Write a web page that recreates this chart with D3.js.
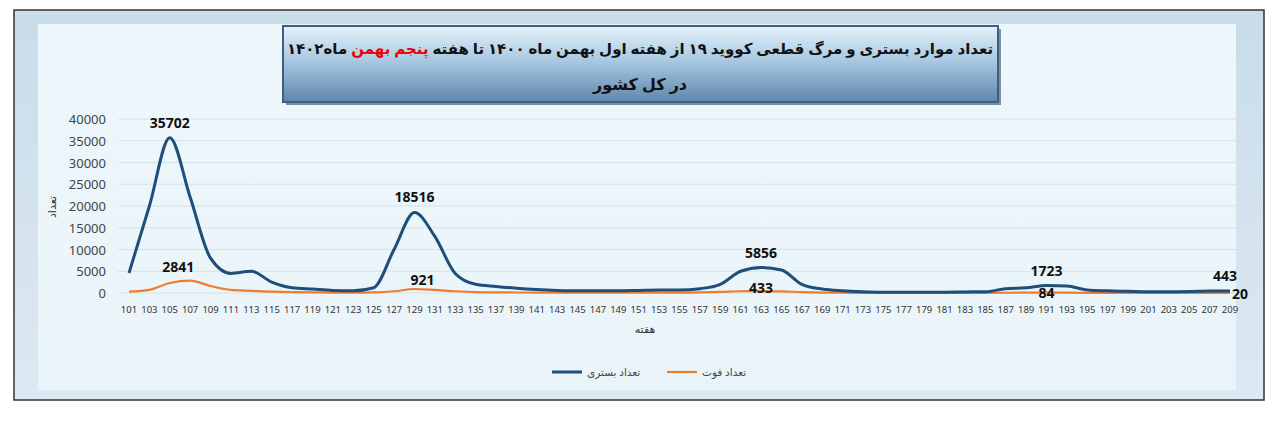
<!DOCTYPE html>
<html lang="fa">
<head>
<meta charset="utf-8" />
<style>
  body { margin: 0; background: #fff; }
  text { font-family: "Noto Sans", "DejaVu Sans", sans-serif; }
</style>
</head>
<body>
<div id="graph"></div>
<script src="https://cdnjs.cloudflare.com/ajax/libs/d3/7.8.5/d3.min.js"></script>
<script>
var W = 1280, H = 422;

var weeks = d3.range(101, 210, 2);
var hospital = [4600,20000,35702,22000,8000,4500,5000,2500,1200,900,600,500,1200,10000,18516,13000,4500,2000,1500,1100,
  800,600,500,500,500,600,700,700,1000,2000,5000,5856,5300,2000,900,500,300,200,200,200,
  200,250,300,1000,1200,1723,1600,700,500,400,300,300,350,450,443];
var deaths = [300,700,2300,2841,1600,700,500,300,200,150,100,100,150,400,921,700,400,200,150,120,
  100,90,80,80,80,90,100,100,150,250,400,433,380,200,100,60,40,30,30,30,
  30,30,40,60,70,84,80,50,40,30,25,20,20,20,20];
var yTicks = [0,5000,10000,15000,20000,25000,30000,35000,40000];
var hospLabels = [[105,35702,0,-10],[129,18516,0,-10],[163,5856,0,-10],[191,1723,0,-10],[209,443,-5,-10]];
var deathLabels = [[107,2841,-12,-9],[129,921,8,-4],[163,433,0,2],[191,84,0,5],[209,20,10,6]];

var svg = d3.select("#graph").append("svg").attr("width", W).attr("height", H);
var defs = svg.append("defs");

var bg = defs.append("linearGradient").attr("id", "bg").attr("x1", 0).attr("y1", 0).attr("x2", 0).attr("y2", 1);
bg.append("stop").attr("offset", 0).attr("stop-color", "#eef7fb");
bg.append("stop").attr("offset", 1).attr("stop-color", "#e9f4f9");
var frame = defs.append("linearGradient").attr("id", "frame").attr("x1", 0).attr("y1", 0).attr("x2", 0).attr("y2", 1);
frame.append("stop").attr("offset", 0).attr("stop-color", "#c9dcea");
frame.append("stop").attr("offset", 1).attr("stop-color", "#dde9f2");
var tb = defs.append("linearGradient").attr("id", "tb").attr("x1", 0).attr("y1", 0).attr("x2", 0).attr("y2", 1);
tb.append("stop").attr("offset", 0).attr("stop-color", "#e4f1fa");
tb.append("stop").attr("offset", 0.45).attr("stop-color", "#a9c9e2");
tb.append("stop").attr("offset", 1).attr("stop-color", "#5f86ad");

// outer frame
svg.append("rect").attr("x", 14).attr("y", 10).attr("width", 1250).attr("height", 390)
  .attr("fill", "url(#frame)").attr("stroke", "#333").attr("stroke-width", 1.5);
svg.append("rect").attr("x", 38).attr("y", 24).attr("width", 1198).attr("height", 366).attr("fill", "url(#bg)");

// title box
svg.append("rect").attr("x", 286).attr("y", 29).attr("width", 715).attr("height", 76).attr("fill", "#334a60").attr("opacity", 0.6);
svg.append("rect").attr("x", 283).attr("y", 26).attr("width", 715).attr("height", 76)
  .attr("fill", "url(#tb)").attr("stroke", "#3d5f80").attr("stroke-width", 2);
var t1 = svg.append("text").attr("x", 640).attr("y", 54).attr("text-anchor", "middle")
  .attr("direction", "rtl").attr("font-weight", "bold").attr("font-size", 15).attr("fill", "#111");
t1.append("tspan").text("تعداد موارد بستری و مرگ قطعی کووید ۱۹  از هفته اول بهمن ماه ۱۴۰۰ تا هفته ");
t1.append("tspan").attr("fill", "#e00").text("پنجم بهمن");
t1.append("tspan").text(" ماه۱۴۰۲");
svg.append("text").attr("x", 640).attr("y", 90).attr("text-anchor", "middle")
  .attr("font-weight", "bold").attr("font-size", 16).attr("fill", "#111").text("در کل کشور");

var x = d3.scalePoint().domain(weeks).range([129, 1230]);
var y = d3.scaleLinear().domain([0, 40000]).range([293, 119]);

svg.append("g").selectAll("line").data(yTicks).join("line")
  .attr("x1", 118).attr("x2", 1240).attr("y1", d => y(d)).attr("y2", d => y(d))
  .attr("stroke", "#d6e1e8").attr("stroke-width", 1);

svg.append("g").selectAll("text").data(yTicks).join("text")
  .attr("x", 106).attr("y", d => y(d) + 5).attr("text-anchor", "end")
  .attr("font-size", 13).attr("fill", "#444").text(d => d);

svg.append("g").selectAll("text").data(weeks).join("text")
  .attr("x", d => x(d)).attr("y", 313).attr("text-anchor", "middle")
  .attr("font-size", 9.5).attr("fill", "#333").text(d => d);

svg.append("text").attr("x", 645).attr("y", 333).attr("text-anchor", "middle")
  .attr("font-size", 11).attr("fill", "#333").text("هفته");
svg.append("text").attr("transform", "translate(56,207) rotate(-90)").attr("text-anchor", "middle")
  .attr("font-size", 11).attr("fill", "#333").text("تعداد");

var line = d3.line().x((d, i) => x(weeks[i])).y(d => y(d)).curve(d3.curveMonotoneX);
svg.append("path").datum(deaths).attr("d", line).attr("fill", "none")
  .attr("stroke", "#ed7d31").attr("stroke-width", 2.2);
svg.append("path").datum(hospital).attr("d", line).attr("fill", "none")
  .attr("stroke", "#1f4e79").attr("stroke-width", 3);

svg.append("g").selectAll("text").data(hospLabels).join("text")
  .attr("x", d => x(d[0]) + d[2]).attr("y", d => y(d[1]) + d[3]).attr("text-anchor", "middle")
  .attr("font-size", 14).attr("font-weight", "bold").attr("fill", "#111").text(d => d[1]);
svg.append("g").selectAll("text").data(deathLabels).join("text")
  .attr("x", d => x(d[0]) + d[2]).attr("y", d => y(d[1]) + d[3]).attr("text-anchor", "middle")
  .attr("font-size", 14).attr("font-weight", "bold").attr("fill", "#111").text(d => d[1]);

// legend
var lg = svg.append("g");
lg.append("line").attr("x1", 552).attr("x2", 582).attr("y1", 372).attr("y2", 372).attr("stroke", "#1f4e79").attr("stroke-width", 3);
lg.append("text").attr("x", 587).attr("y", 376).attr("font-size", 10.5).attr("fill", "#444").text("تعداد بستری");
lg.append("line").attr("x1", 667).attr("x2", 697).attr("y1", 372).attr("y2", 372).attr("stroke", "#ed7d31").attr("stroke-width", 2.2);
lg.append("text").attr("x", 702).attr("y", 376).attr("font-size", 10.5).attr("fill", "#444").text("تعداد فوت");
</script>
</body>
</html>
